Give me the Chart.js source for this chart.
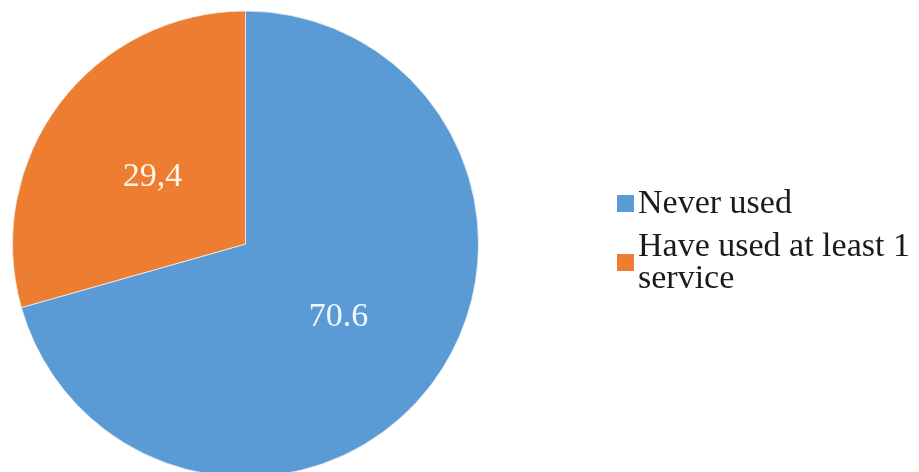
<!DOCTYPE html>
<html>
<head>
<meta charset="utf-8">
<script src="https://cdn.jsdelivr.net/npm/chart.js@4/dist/chart.umd.min.js"></script>
<style>
  html, body { margin: 0; padding: 0; background: #fff; overflow: hidden; }
  #wrap { position: relative; width: 919px; height: 480px; }
</style>
</head>
<body>
<div id="wrap"><canvas id="graficoUso"></canvas></div>
<script>
// dados do gráfico
const categorias = ["Never used", ["Have used at least 1", "service"]];
const valores = [70.6, 29.4];
const rotulosValores = ["70.6", "29,4"];
const cores = ["#5B9BD5", "#ED7D31"];

const fonteSerif = '"Liberation Serif", "Times New Roman", serif';

// rótulos de valor dentro das fatias
const pluginRotulos = {
  id: "rotulos",
  afterDatasetsDraw(chart) {
    const ctx = chart.ctx;
    const meta = chart.getDatasetMeta(0);
    ctx.save();
    ctx.font = "34px " + fonteSerif;
    ctx.textAlign = "center";
    ctx.textBaseline = "middle";
    meta.data.forEach((arc, i) => {
      const p = arc.getCenterPoint();
      ctx.fillStyle = i === 0 ? "#F2F8FF" : "#FFF4E4";
      ctx.fillText(rotulosValores[i], p.x, p.y + 3);
    });
    ctx.restore();
  },
};

// legenda à direita (com quebra de linha)
const pluginLegenda = {
  id: "legendaDireita",
  afterDraw(chart) {
    const ctx = chart.ctx;
    const cx = 617, box = 17, textoX = 638, alturaLinha = 32;
    const topos = [195, 254];
    const baselines = [213, 256];
    ctx.save();
    ctx.font = "34px " + fonteSerif;
    ctx.textBaseline = "alphabetic";
    ctx.textAlign = "left";
    chart.data.labels.forEach((lab, i) => {
      ctx.fillStyle = chart.data.datasets[0].backgroundColor[i];
      ctx.fillRect(cx, topos[i], box, box);
      ctx.fillStyle = "#1a1a1a";
      const linhas = Array.isArray(lab) ? lab : [lab];
      linhas.forEach((l, j) => {
        ctx.fillText(l, textoX, baselines[i] + j * alturaLinha);
      });
    });
    ctx.restore();
  },
};

const ctxUso = document.getElementById("graficoUso").getContext("2d");
new Chart(ctxUso, {
  type: "pie",
  data: {
    labels: categorias,
    datasets: [
      {
        data: valores,
        backgroundColor: cores,
        borderColor: "rgba(235, 240, 245, 0.8)",
        borderWidth: 1,
      },
    ],
  },
  options: {
    responsive: true,
    maintainAspectRatio: false,
    animation: false,
    layout: { padding: { left: 12, top: 10, right: 440, bottom: 2 } },
    plugins: {
      legend: { display: false },
      tooltip: { enabled: false },
    },
  },
  plugins: [pluginRotulos, pluginLegenda],
});
</script>
</body>
</html>
